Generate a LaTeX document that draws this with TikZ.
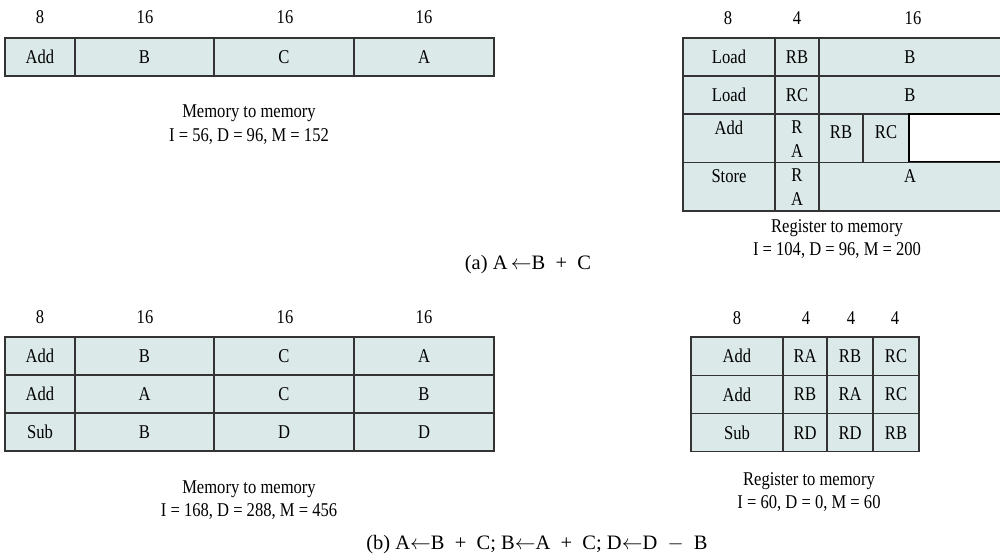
\documentclass[tikz,border=0pt]{standalone}
\usepackage{fontspec}
\setmainfont[FakeStretch=0.85]{Liberation Serif}
\newfontfamily\capfont{Liberation Serif}
\usetikzlibrary{positioning}
\definecolor{cellfill}{RGB}{219,233,233}
\newcommand{\wplus}{\hspace{.5em}+\hspace{.5em}}
\newcommand{\wminus}{\hspace{.5em}$-$\hspace{.5em}}

\begin{document}
\begin{tikzpicture}[x=1pt, y=-1pt, font=\fontsize{19.5}{23.5}\selectfont,
  cell/.style={draw=black!80, fill=cellfill, line width=1.1pt, inner sep=0pt},
  hole/.style={draw=black, fill=white, line width=2.2pt, inner sep=0pt},
  txt/.style={inner sep=0pt},
  legend/.style={align=center, inner sep=0pt},
  part/.style={inner sep=0pt, font=\capfont\fontsize{20.5}{24}\selectfont}]
  \useasboundingbox (0,0) rectangle (1000,555);
  % (a) memory to memory
  \foreach \w/\xc [count=\i] in {8/40,16/145,16/285,16/424}\node[txt](ha\i) at (\xc,17){\w};
  \foreach \t/\xa/\xb [count=\i] in {Add/5/75,B/75/214,C/214/354,A/354/494}
    \node[cell, minimum width=\xb-\xa, minimum height=38](ma\i) at ({(\xa+\xb)/2},57){\t};
  \node[legend](legma) at (249,124.5){Memory to memory\\I = 56, D = 96, M = 152};
  % (a) register to memory
  \foreach \w/\xc [count=\i] in {8/728,4/797,16/913}\node[txt](hr\i) at (\xc,18){\w};
  \foreach \op/\rg/\m [count=\j] in {Load/RB/B,Load/RC/B}{
    \pgfmathsetmacro\yc{38+38*(\j-0.5)}
    \node[cell, minimum width=92, minimum height=38](rop\j) at (729,\yc){\op};
    \node[cell, minimum width=44, minimum height=38](rrg\j) at (797,\yc){\rg};
    \node[cell, minimum width=182, minimum height=38](rm\j) at (910,\yc){\m};
  }
  \node[cell, minimum width=92, minimum height=48.5](rop3) at (729,138.25){};
  \node[cell, minimum width=44, minimum height=48.5](rrg3) at (797,138.25){};
  \node[cell, minimum width=44, minimum height=48.5](rrb3) at (841,138.25){};
  \node[cell, minimum width=46, minimum height=48.5](rrc3) at (886,138.25){};
  \node[hole, minimum width=92, minimum height=48.5](rnil3) at (955,138.25){};
  \node[cell, minimum width=92, minimum height=48.5](rop4) at (729,186.75){};
  \node[cell, minimum width=44, minimum height=48.5](rrg4) at (797,186.75){};
  \node[cell, minimum width=182, minimum height=48.5](rm4) at (910,186.75){};
  \node[txt, below=7pt of rop3.north](tadd){Add};
  \node[txt, align=center, below=7pt of rrg3.north](tra3){R\\[1pt]A};
  \node[txt, below=12pt of rrb3.north](trb3){RB};
  \node[txt, below=12pt of rrc3.north](trc3){RC};
  \node[txt, below=7pt of rop4.north](tstore){Store};
  \node[txt, align=center, below=7pt of rrg4.north](tra4){R\\[0pt]A};
  \node[txt, below=7pt of rm4.north](ta4){A};
  \node[legend](legra) at (837,239){Register to memory\\I = 104, D = 96, M = 200};
  \node[part](parta) at (528,265){(a) A\,$\leftarrow$B\wplus C};
  % (b) memory to memory
  \foreach \w/\xc [count=\i] in {8/40,16/145,16/285,16/424}\node[txt](hb\i) at (\xc,317){\w};
  \foreach \a/\b/\c/\d [count=\j] in {Add/B/C/A,Add/A/C/B,Sub/B/D/D}{
    \pgfmathsetmacro\yc{337+38*(\j-0.5)}
    \node[cell, minimum width=70, minimum height=38](mbop\j) at (40,\yc){\a};
    \node[cell, minimum width=139, minimum height=38](mbx\j) at (144.5,\yc){\b};
    \node[cell, minimum width=140, minimum height=38](mby\j) at (284,\yc){\c};
    \node[cell, minimum width=140, minimum height=38](mbz\j) at (424,\yc){\d};
  }
  \node[legend](legmb) at (249,500){Memory to memory\\I = 168, D = 288, M = 456};
  % (b) register to memory
  \foreach \w/\xc [count=\i] in {8/737,4/806,4/851,4/895}\node[txt](hs\i) at (\xc,318){\w};
  \foreach \a/\b/\c/\d [count=\j] in {Add/RA/RB/RC,Add/RB/RA/RC,Sub/RD/RD/RB}{
    \pgfmathsetmacro\yc{337+38.3*(\j-0.5)}
    \node[cell, minimum width=92, minimum height=38.3](sop\j) at (737,\yc){\a};
    \node[cell, minimum width=44, minimum height=38.3](sx\j) at (805,\yc){\b};
    \node[cell, minimum width=46, minimum height=38.3](sy\j) at (850,\yc){\c};
    \node[cell, minimum width=46, minimum height=38.3](sz\j) at (896,\yc){\d};
  }
  \node[legend](legsb) at (809,492){Register to memory\\I = 60, D = 0, M = 60};
  \node[part](partb) at (537,545){(b) A$\leftarrow$B\wplus C; B$\leftarrow$A\wplus C; D$\leftarrow$D\wminus B};
\end{tikzpicture}
\end{document}
